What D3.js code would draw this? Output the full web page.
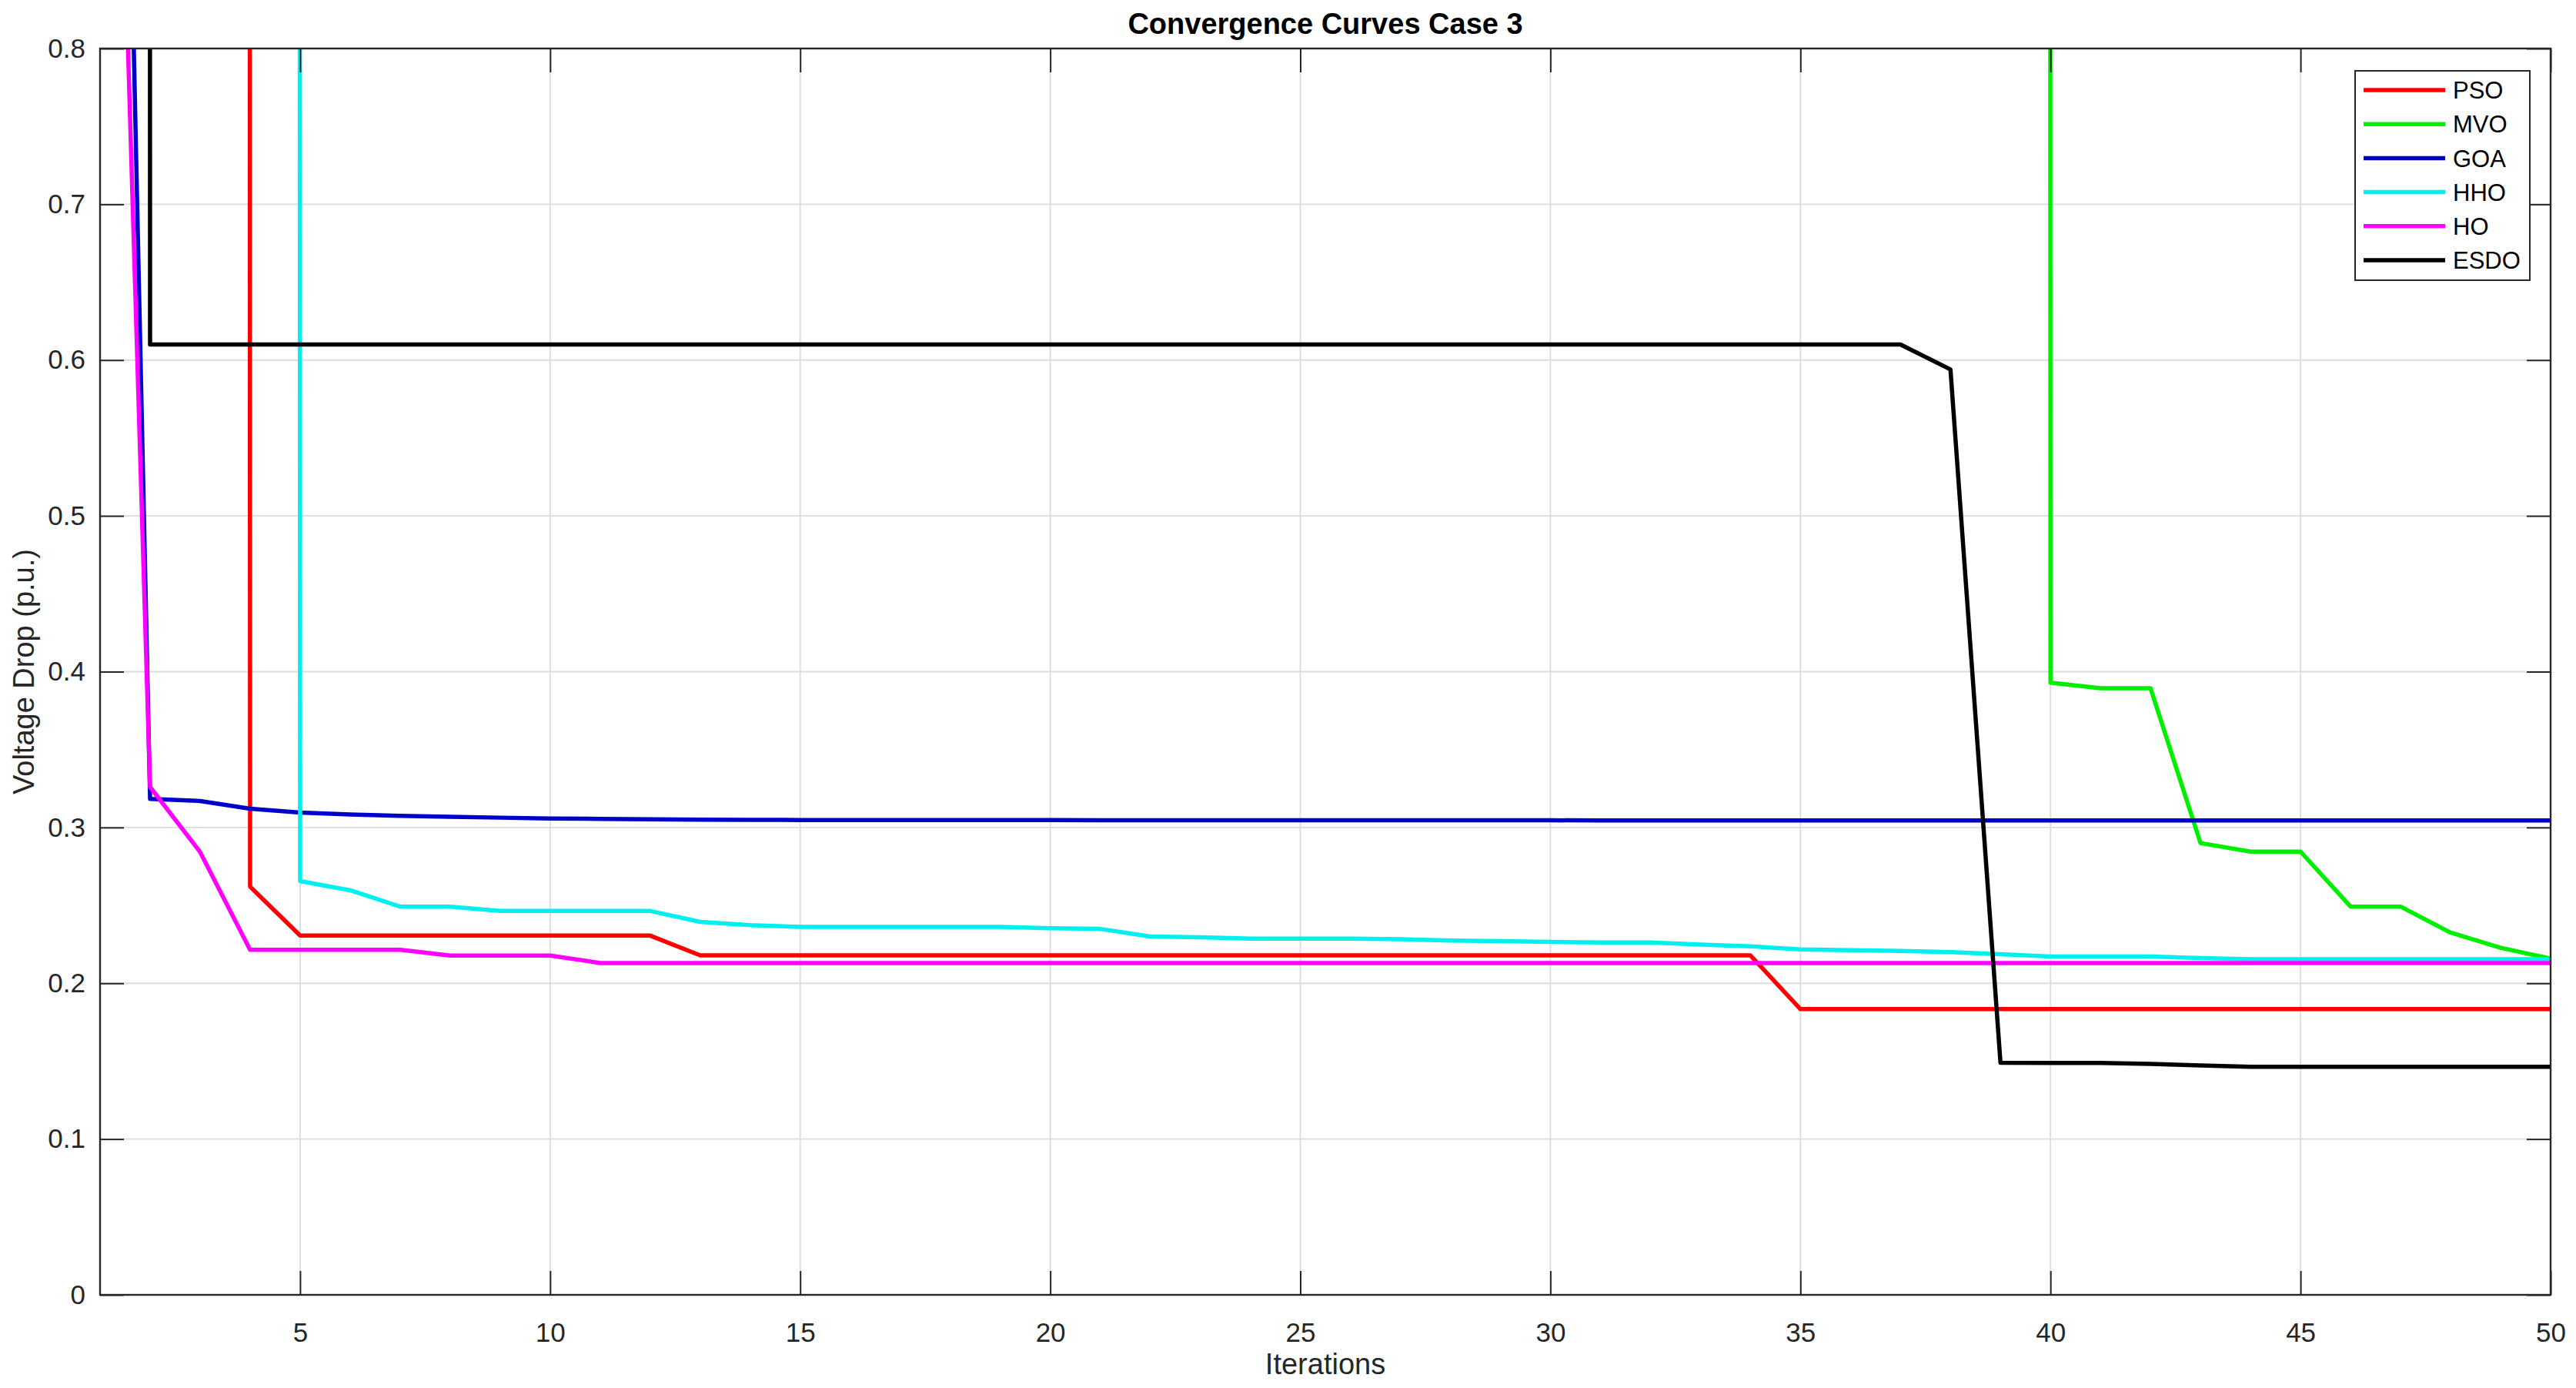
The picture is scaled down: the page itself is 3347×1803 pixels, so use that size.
<!DOCTYPE html>
<html>
<head>
<meta charset="utf-8">
<script src="https://cdn.jsdelivr.net/npm/d3@7"></script>
<style>
  html, body { margin: 0; padding: 0; background: #ffffff; }
  svg { display: block; font-family: "Liberation Sans", Arial, Helvetica, sans-serif; }
</style>
</head>
<body>
<svg id="chart" width="3347" height="1803"></svg>
<script>
// ---------- data ----------
const iterations = d3.range(1, 51);
const seriesNames = ["PSO", "MVO", "GOA", "HHO", "HO", "ESDO"];
const seriesColors = ["#ff0000", "#00ee00", "#0000cc", "#00f0f0", "#ff00ff", "#000000"];

// values above 0.8 are off the visible scale (clipped)
const PSO = [100, 100, 100, 0.2620, 0.2306, 0.2306, 0.2306, 0.2306, 0.2306, 0.2306,
  0.2306, 0.2306, 0.2179, 0.2179, 0.2179, 0.2179, 0.2179, 0.2179, 0.2179, 0.2179,
  0.2179, 0.2179, 0.2179, 0.2179, 0.2179, 0.2179, 0.2179, 0.2179, 0.2179, 0.2179,
  0.2179, 0.2179, 0.2179, 0.2179, 0.1834, 0.1834, 0.1834, 0.1834, 0.1834, 0.1834,
  0.1834, 0.1834, 0.1834, 0.1834, 0.1834, 0.1834, 0.1834, 0.1834, 0.1834, 0.1834];

const MVO = [100, 100, 100, 100, 100, 100, 100, 100, 100, 100,
  100, 100, 100, 100, 100, 100, 100, 100, 100, 100,
  100, 100, 100, 100, 100, 100, 100, 100, 100, 100,
  100, 100, 100, 100, 100, 100, 100, 100, 100, 0.3930,
  0.3894, 0.3894, 0.2900, 0.2845, 0.2845, 0.2492, 0.2492, 0.2325, 0.2228, 0.2158];

const GOA = [1.80, 0.3184, 0.3170, 0.3120, 0.3096, 0.3083, 0.3075, 0.3069, 0.3063, 0.3058,
  0.3055, 0.3052, 0.3050, 0.3049, 0.3048, 0.3047, 0.3047, 0.3047, 0.3047, 0.3047,
  0.3046, 0.3046, 0.3046, 0.3046, 0.3046, 0.3046, 0.3046, 0.3046, 0.3046, 0.3046,
  0.3045, 0.3045, 0.3045, 0.3045, 0.3045, 0.3045, 0.3045, 0.3045, 0.3045, 0.3045,
  0.3045, 0.3045, 0.3045, 0.3045, 0.3045, 0.3045, 0.3045, 0.3045, 0.3045, 0.3045];

const HHO = [100, 100, 100, 100, 0.2656, 0.2597, 0.2492, 0.2492, 0.2464, 0.2464,
  0.2464, 0.2464, 0.2394, 0.2373, 0.2362, 0.2362, 0.2362, 0.2362, 0.2362, 0.2353,
  0.2349, 0.2300, 0.2295, 0.2287, 0.2286, 0.2286, 0.2283, 0.2274, 0.2270, 0.2265,
  0.2262, 0.2262, 0.2248, 0.2237, 0.2218, 0.2212, 0.2207, 0.2200, 0.2187, 0.2172,
  0.2172, 0.2172, 0.2162, 0.2155, 0.2155, 0.2155, 0.2155, 0.2155, 0.2155, 0.2155];

const HO = [1.40, 0.3260, 0.2843, 0.2215, 0.2215, 0.2215, 0.2215, 0.2178, 0.2178, 0.2178,
  0.2130, 0.2130, 0.2130, 0.2130, 0.2130, 0.2130, 0.2130, 0.2130, 0.2130, 0.2130,
  0.2130, 0.2130, 0.2130, 0.2130, 0.2130, 0.2130, 0.2130, 0.2130, 0.2130, 0.2130,
  0.2130, 0.2130, 0.2130, 0.2130, 0.2130, 0.2130, 0.2130, 0.2130, 0.2130, 0.2130,
  0.2130, 0.2130, 0.2130, 0.2130, 0.2130, 0.2130, 0.2130, 0.2130, 0.2130, 0.2130];

const ESDO = [100, 0.610, 0.610, 0.610, 0.610, 0.610, 0.610, 0.610, 0.610, 0.610,
  0.610, 0.610, 0.610, 0.610, 0.610, 0.610, 0.610, 0.610, 0.610, 0.610,
  0.610, 0.610, 0.610, 0.610, 0.610, 0.610, 0.610, 0.610, 0.610, 0.610,
  0.610, 0.610, 0.610, 0.610, 0.610, 0.610, 0.610, 0.594, 0.1490, 0.1489,
  0.1488, 0.1482, 0.1472, 0.1464, 0.1464, 0.1464, 0.1464, 0.1464, 0.1464, 0.1464];

const xTicks = [5, 10, 15, 20, 25, 30, 35, 40, 45, 50];
const yTicks = [0, 0.1, 0.2, 0.3, 0.4, 0.5, 0.6, 0.7, 0.8];
const yTickLabels = ["0", "0.1", "0.2", "0.3", "0.4", "0.5", "0.6", "0.7", "0.8"];
const titleText = "Convergence Curves Case 3";
const xLabelText = "Iterations";
const yLabelText = "Voltage Drop (p.u.)";

// ---------- layout ----------
const allSeries = [PSO, MVO, GOA, HHO, HO, ESDO];
const L = 130, R = 3314, T = 63, B = 1682;
const W = R - L, H = B - T;
const axisColor = "#262626";
const tickLen = 31;

const svg = d3.select("#chart");
const x = d3.scaleLinear().domain([1, 50]).range([L, R]);
const y = d3.scaleLinear().domain([0, 0.8]).range([B, T]);

// grid
svg.append("g").attr("class", "grid")
  .selectAll("line.vx").data(xTicks).join("line")
  .attr("x1", d => x(d)).attr("x2", d => x(d)).attr("y1", T).attr("y2", B)
  .attr("stroke", "#dcdcdc").attr("stroke-width", 1.8);
svg.append("g").attr("class", "grid")
  .selectAll("line.hy").data(yTicks).join("line")
  .attr("x1", L).attr("x2", R).attr("y1", d => y(d)).attr("y2", d => y(d))
  .attr("stroke", "#dcdcdc").attr("stroke-width", 1.8);

// clip
svg.append("defs").append("clipPath").attr("id", "plotclip")
  .append("rect").attr("x", L).attr("y", T).attr("width", W).attr("height", H);

// lines
const line = d3.line().x((d, i) => x(iterations[i])).y(d => y(d));
const lineG = svg.append("g").attr("clip-path", "url(#plotclip)");
allSeries.forEach((s, k) => {
  lineG.append("path").datum(s)
    .attr("d", line)
    .attr("fill", "none")
    .attr("stroke", seriesColors[k])
    .attr("stroke-width", 5.5)
    .attr("stroke-linejoin", "round");
});

// axes (ticks inward, all four sides)
const fmtY = d => yTickLabels[yTicks.indexOf(d)];
const xAxisB = d3.axisBottom(x).tickValues(xTicks).tickSizeInner(-tickLen).tickSizeOuter(0).tickPadding(36).tickFormat(d3.format("d"));
const xAxisT = d3.axisTop(x).tickValues(xTicks).tickSizeInner(-tickLen).tickSizeOuter(0).tickFormat("");
const yAxisL = d3.axisLeft(y).tickValues(yTicks).tickSizeInner(-tickLen).tickSizeOuter(0).tickPadding(19).tickFormat(fmtY);
const yAxisR = d3.axisRight(y).tickValues(yTicks).tickSizeInner(-tickLen).tickSizeOuter(0).tickFormat("");

function styleAxis(g) {
  g.select(".domain").remove();
  g.selectAll(".tick line").attr("stroke", axisColor).attr("stroke-width", 2);
  g.selectAll(".tick text").attr("fill", axisColor).attr("font-size", 35)
    .attr("font-family", "'Liberation Sans', Arial, Helvetica, sans-serif");
}
svg.append("g").attr("transform", `translate(0,${B})`).call(xAxisB).call(styleAxis);
svg.append("g").attr("transform", `translate(0,${T})`).call(xAxisT).call(styleAxis);
svg.append("g").attr("transform", `translate(${L},0)`).call(yAxisL).call(styleAxis);
svg.append("g").attr("transform", `translate(${R},0)`).call(yAxisR).call(styleAxis);

// box
svg.append("rect").attr("x", L).attr("y", T).attr("width", W).attr("height", H)
  .attr("fill", "none").attr("stroke", axisColor).attr("stroke-width", 2.4);

// title & labels
svg.append("text").attr("x", (L + R) / 2).attr("y", 44)
  .attr("text-anchor", "middle").attr("font-size", 38).attr("font-weight", "bold")
  .attr("fill", "#000").text(titleText);
svg.append("text").attr("x", (L + R) / 2).attr("y", 1785)
  .attr("text-anchor", "middle").attr("font-size", 38).attr("fill", axisColor).text(xLabelText);
svg.append("text").attr("transform", `translate(44,${(T + B) / 2}) rotate(-90)`)
  .attr("text-anchor", "middle").attr("font-size", 38).attr("fill", axisColor).text(yLabelText);

// legend
const lg = svg.append("g");
lg.append("rect").attr("x", 3060).attr("y", 92).attr("width", 227).attr("height", 272)
  .attr("fill", "#fff").attr("stroke", axisColor).attr("stroke-width", 2);
seriesNames.forEach((n, i) => {
  const yy = 117 + i * 44.2;
  lg.append("line").attr("x1", 3071).attr("x2", 3177).attr("y1", yy).attr("y2", yy)
    .attr("stroke", seriesColors[i]).attr("stroke-width", 5.5);
  lg.append("text").attr("x", 3187).attr("y", yy).attr("dy", "0.36em")
    .attr("font-size", 31).attr("fill", "#000").text(n);
});
</script>
</body>
</html>
